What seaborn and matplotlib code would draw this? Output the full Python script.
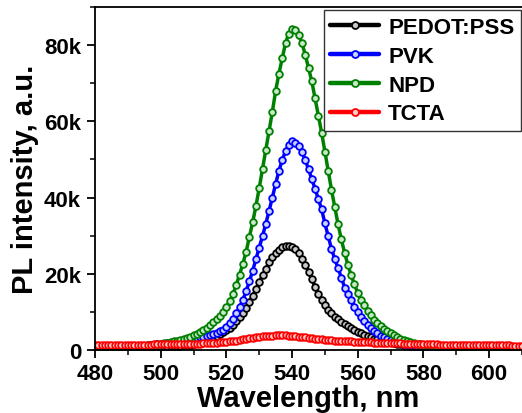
import matplotlib
matplotlib.use("Agg")
import matplotlib.pyplot as plt
import seaborn as sns
import pandas as pd
from matplotlib.ticker import MultipleLocator, FixedLocator

# wavelength grid (nm), 1 nm steps
wavelength = list(range(480, 611))

# PL intensity in thousands (k)
pedot_pss = [
    0.5, 0.5, 0.5, 0.55, 0.55, 0.55, 0.6, 0.6, 0.6, 0.65,
    0.65, 0.65, 0.7, 0.7, 0.7, 0.75, 0.75, 0.8, 0.8, 0.85,
    0.85, 0.9, 0.9, 0.95, 1.0, 1.05, 1.1, 1.2, 1.3, 1.4,
    1.6, 1.8, 2.0, 2.3, 2.6, 2.9, 3.3, 3.7, 4.2, 4.7,
    5.2, 5.8, 6.6, 7.5, 8.6, 9.8, 11.1, 12.5, 14.2, 16.0,
    17.8, 19.6, 21.3, 23.0, 24.4, 25.5, 26.3, 26.9, 27.2, 27.3,
    27.0, 26.4, 25.4, 24.0, 22.3, 20.5, 18.6, 16.6, 14.8, 13.1,
    11.7, 10.5, 9.6, 8.8, 8.1, 7.4, 6.8, 6.2, 5.7, 5.2,
    4.8, 4.4, 4.0, 3.6, 3.3, 3.0, 2.8, 2.6, 2.45, 2.3,
    2.1, 1.9, 1.7, 1.5, 1.35, 1.2, 1.1, 1.0, 0.9, 0.85,
    0.8, 0.75, 0.7, 0.7, 0.65, 0.65, 0.6, 0.6, 0.6, 0.55,
    0.55, 0.55, 0.5, 0.5, 0.5, 0.5, 0.5, 0.45, 0.45, 0.45,
    0.45, 0.45, 0.45, 0.4, 0.4, 0.4, 0.4, 0.4, 0.4, 0.4,
    0.4,
]
pvk = [
    0.6, 0.6, 0.65, 0.65, 0.7, 0.7, 0.75, 0.75, 0.8, 0.85,
    0.9, 0.95, 1.0, 1.05, 1.1, 1.15, 1.2, 1.3, 1.4, 1.5,
    1.6, 1.7, 1.8, 1.9, 2.0, 2.1, 2.25, 2.4, 2.55, 2.7,
    2.9, 3.1, 3.3, 3.5, 3.75, 4.0, 4.3, 4.6, 4.95, 5.3,
    6.0, 7.0, 8.2, 9.6, 11.2, 13.1, 15.4, 18.0, 20.8, 23.8,
    26.8, 29.9, 33.1, 36.5, 40.0, 43.6, 47.0, 49.9, 52.1, 53.7,
    54.8, 54.4, 53.4, 52.0, 49.9, 47.4, 44.9, 42.3, 39.6, 36.9,
    33.2, 29.8, 26.5, 23.9, 21.5, 19.0, 16.4, 14.7, 13.0, 11.3,
    10.0, 8.8, 7.6, 6.6, 5.8, 5.0, 4.4, 3.8, 3.3, 2.9,
    2.6, 2.3, 2.0, 1.8, 1.6, 1.4, 1.3, 1.2, 1.1, 1.0,
    0.95, 0.9, 0.85, 0.8, 0.8, 0.75, 0.75, 0.7, 0.7, 0.7,
    0.65, 0.65, 0.65, 0.6, 0.6, 0.6, 0.6, 0.6, 0.55, 0.55,
    0.55, 0.55, 0.55, 0.5, 0.5, 0.5, 0.5, 0.5, 0.5, 0.5,
    0.5,
]
npd = [
    0.7, 0.7, 0.75, 0.75, 0.8, 0.8, 0.85, 0.85, 0.9, 0.9,
    0.95, 1.0, 1.0, 1.05, 1.1, 1.15, 1.2, 1.3, 1.4, 1.5,
    1.6, 1.75, 1.9, 2.05, 2.25, 2.45, 2.65, 2.9, 3.2, 3.5,
    3.9, 4.3, 4.8, 5.3, 5.9, 6.5, 7.3, 8.1, 9.0, 10.1,
    11.3, 12.8, 14.7, 17.0, 19.8, 22.5, 25.8, 29.6, 33.5, 37.8,
    42.5, 47.5, 52.5, 57.5, 62.5, 68.0, 72.5, 76.5, 80.5, 83.0,
    84.2, 84.0, 82.5, 80.5, 77.5, 74.0, 70.5, 66.0, 61.5, 57.0,
    52.0, 47.0, 42.0, 37.5, 33.0, 29.0, 25.5, 22.3, 19.6, 17.2,
    15.0, 13.2, 11.7, 10.3, 9.1, 8.0, 7.1, 6.3, 5.6, 5.0,
    4.4, 3.9, 3.4, 3.0, 2.7, 2.4, 2.1, 1.9, 1.7, 1.5,
    1.4, 1.3, 1.25, 1.2, 1.15, 1.1, 1.05, 1.0, 1.0, 0.95,
    0.95, 0.9, 0.9, 0.9, 0.85, 0.85, 0.85, 0.8, 0.8, 0.8,
    0.8, 0.75, 0.75, 0.75, 0.75, 0.7, 0.7, 0.7, 0.7, 0.7,
    0.7,
]
tcta = [
    1.4, 1.4, 1.4, 1.4, 1.4, 1.4, 1.4, 1.4, 1.4, 1.4,
    1.4, 1.4, 1.4, 1.4, 1.45, 1.45, 1.45, 1.45, 1.5, 1.5,
    1.5, 1.5, 1.5, 1.55, 1.55, 1.55, 1.6, 1.6, 1.6, 1.65,
    1.65, 1.7, 1.7, 1.75, 1.8, 1.85, 1.9, 1.95, 2.0, 2.1,
    2.2, 2.3, 2.4, 2.5, 2.65, 2.8, 2.95, 3.1, 3.25, 3.4,
    3.5, 3.6, 3.7, 3.75, 3.8, 3.85, 3.85, 3.85, 3.85, 3.8,
    3.7, 3.6, 3.5, 3.4, 3.3, 3.2, 3.1, 3.0, 2.9, 2.8,
    2.7, 2.65, 2.6, 2.5, 2.45, 2.4, 2.35, 2.3, 2.25, 2.2,
    2.15, 2.1, 2.05, 2.0, 2.0, 1.95, 1.9, 1.9, 1.85, 1.85,
    1.8, 1.8, 1.75, 1.75, 1.7, 1.7, 1.65, 1.65, 1.6, 1.6,
    1.55, 1.55, 1.5, 1.5, 1.5, 1.45, 1.45, 1.45, 1.4, 1.4,
    1.4, 1.35, 1.35, 1.35, 1.3, 1.3, 1.3, 1.3, 1.25, 1.25,
    1.25, 1.25, 1.2, 1.2, 1.2, 1.2, 1.2, 1.15, 1.15, 1.15,
    1.15,
]

series_names = ["PEDOT:PSS", "PVK", "NPD", "TCTA"]
series_values = [pedot_pss, pvk, npd, tcta]
line_colors = ["#000000", "#0000ff", "#008000", "#ff0000"]
face_colors = ["#c8c8c8", "#c8d4ff", "#cce8cc", "#ffd0d0"]

y_ticks = [0, 20, 40, 60, 80]
y_ticklabels = ["0", "20k", "40k", "60k", "80k"]
x_ticks = [480, 500, 520, 540, 560, 580, 600]

sns.set_theme(style="ticks")
plt.rcParams["font.family"] = ["Liberation Sans", "DejaVu Sans"]
plt.rcParams["font.weight"] = "bold"
plt.rcParams["text.color"] = "black"
plt.rcParams["axes.labelcolor"] = "black"
plt.rcParams["xtick.color"] = "black"
plt.rcParams["ytick.color"] = "black"

fig = plt.figure(figsize=(5.22, 4.14), dpi=100)
ax = fig.add_axes([0.182, 0.152, 0.818, 0.829])

for name, vals, lc, fc in zip(series_names, series_values, line_colors, face_colors):
    df = pd.DataFrame({"wl": wavelength, "PL": vals})
    sns.lineplot(data=df, x="wl", y="PL", ax=ax, color=lc, linewidth=2.5,
                 marker="o", markersize=4.8, markerfacecolor=fc,
                 markeredgecolor=lc, markeredgewidth=1.3, label=name)

ax.set_xlim(480, 610)
ax.set_ylim(0, 90)
ax.xaxis.set_major_locator(FixedLocator(x_ticks))
ax.xaxis.set_minor_locator(MultipleLocator(10))
ax.yaxis.set_major_locator(FixedLocator(y_ticks))
ax.yaxis.set_minor_locator(MultipleLocator(10))
ax.set_yticklabels(y_ticklabels)
ax.set_xticklabels([str(t) for t in x_ticks])

ax.tick_params(axis="both", which="major", length=6, width=1.3, direction="out",
               labelsize=16, pad=3, colors="black", labelcolor="black")
ax.tick_params(axis="both", which="minor", length=3.5, width=1.1, direction="out",
               colors="black")
ax.tick_params(axis="y", which="major", pad=4)
for lab in ax.get_xticklabels() + ax.get_yticklabels():
    lab.set_fontweight("bold")
    lab.set_color("black")

for side in ["left", "bottom", "top"]:
    ax.spines[side].set_visible(True)
    ax.spines[side].set_linewidth(1.3)
    ax.spines[side].set_color("black")
ax.spines["right"].set_visible(False)

ax.set_xlabel("Wavelength, nm", fontsize=21, fontweight="bold", labelpad=0,
              color="black")
ax.set_ylabel("PL intensity, a.u.", fontsize=21, fontweight="bold", labelpad=4,
              color="black")

leg = ax.legend(loc="upper right", bbox_to_anchor=(0.998, 0.99), borderaxespad=0,
                prop={"weight": "bold", "size": 16}, frameon=True,
                fancybox=False, edgecolor="#333333", framealpha=1,
                handlelength=2.2, handletextpad=0.4, labelspacing=0.35,
                borderpad=0.3, numpoints=1)
leg.get_frame().set_linewidth(1.0)
for line in leg.get_lines():
    line.set_linewidth(3.2)
    line.set_markersize(5)
for t in leg.get_texts():
    t.set_color("black")

fig.savefig("out.png", dpi=100)
